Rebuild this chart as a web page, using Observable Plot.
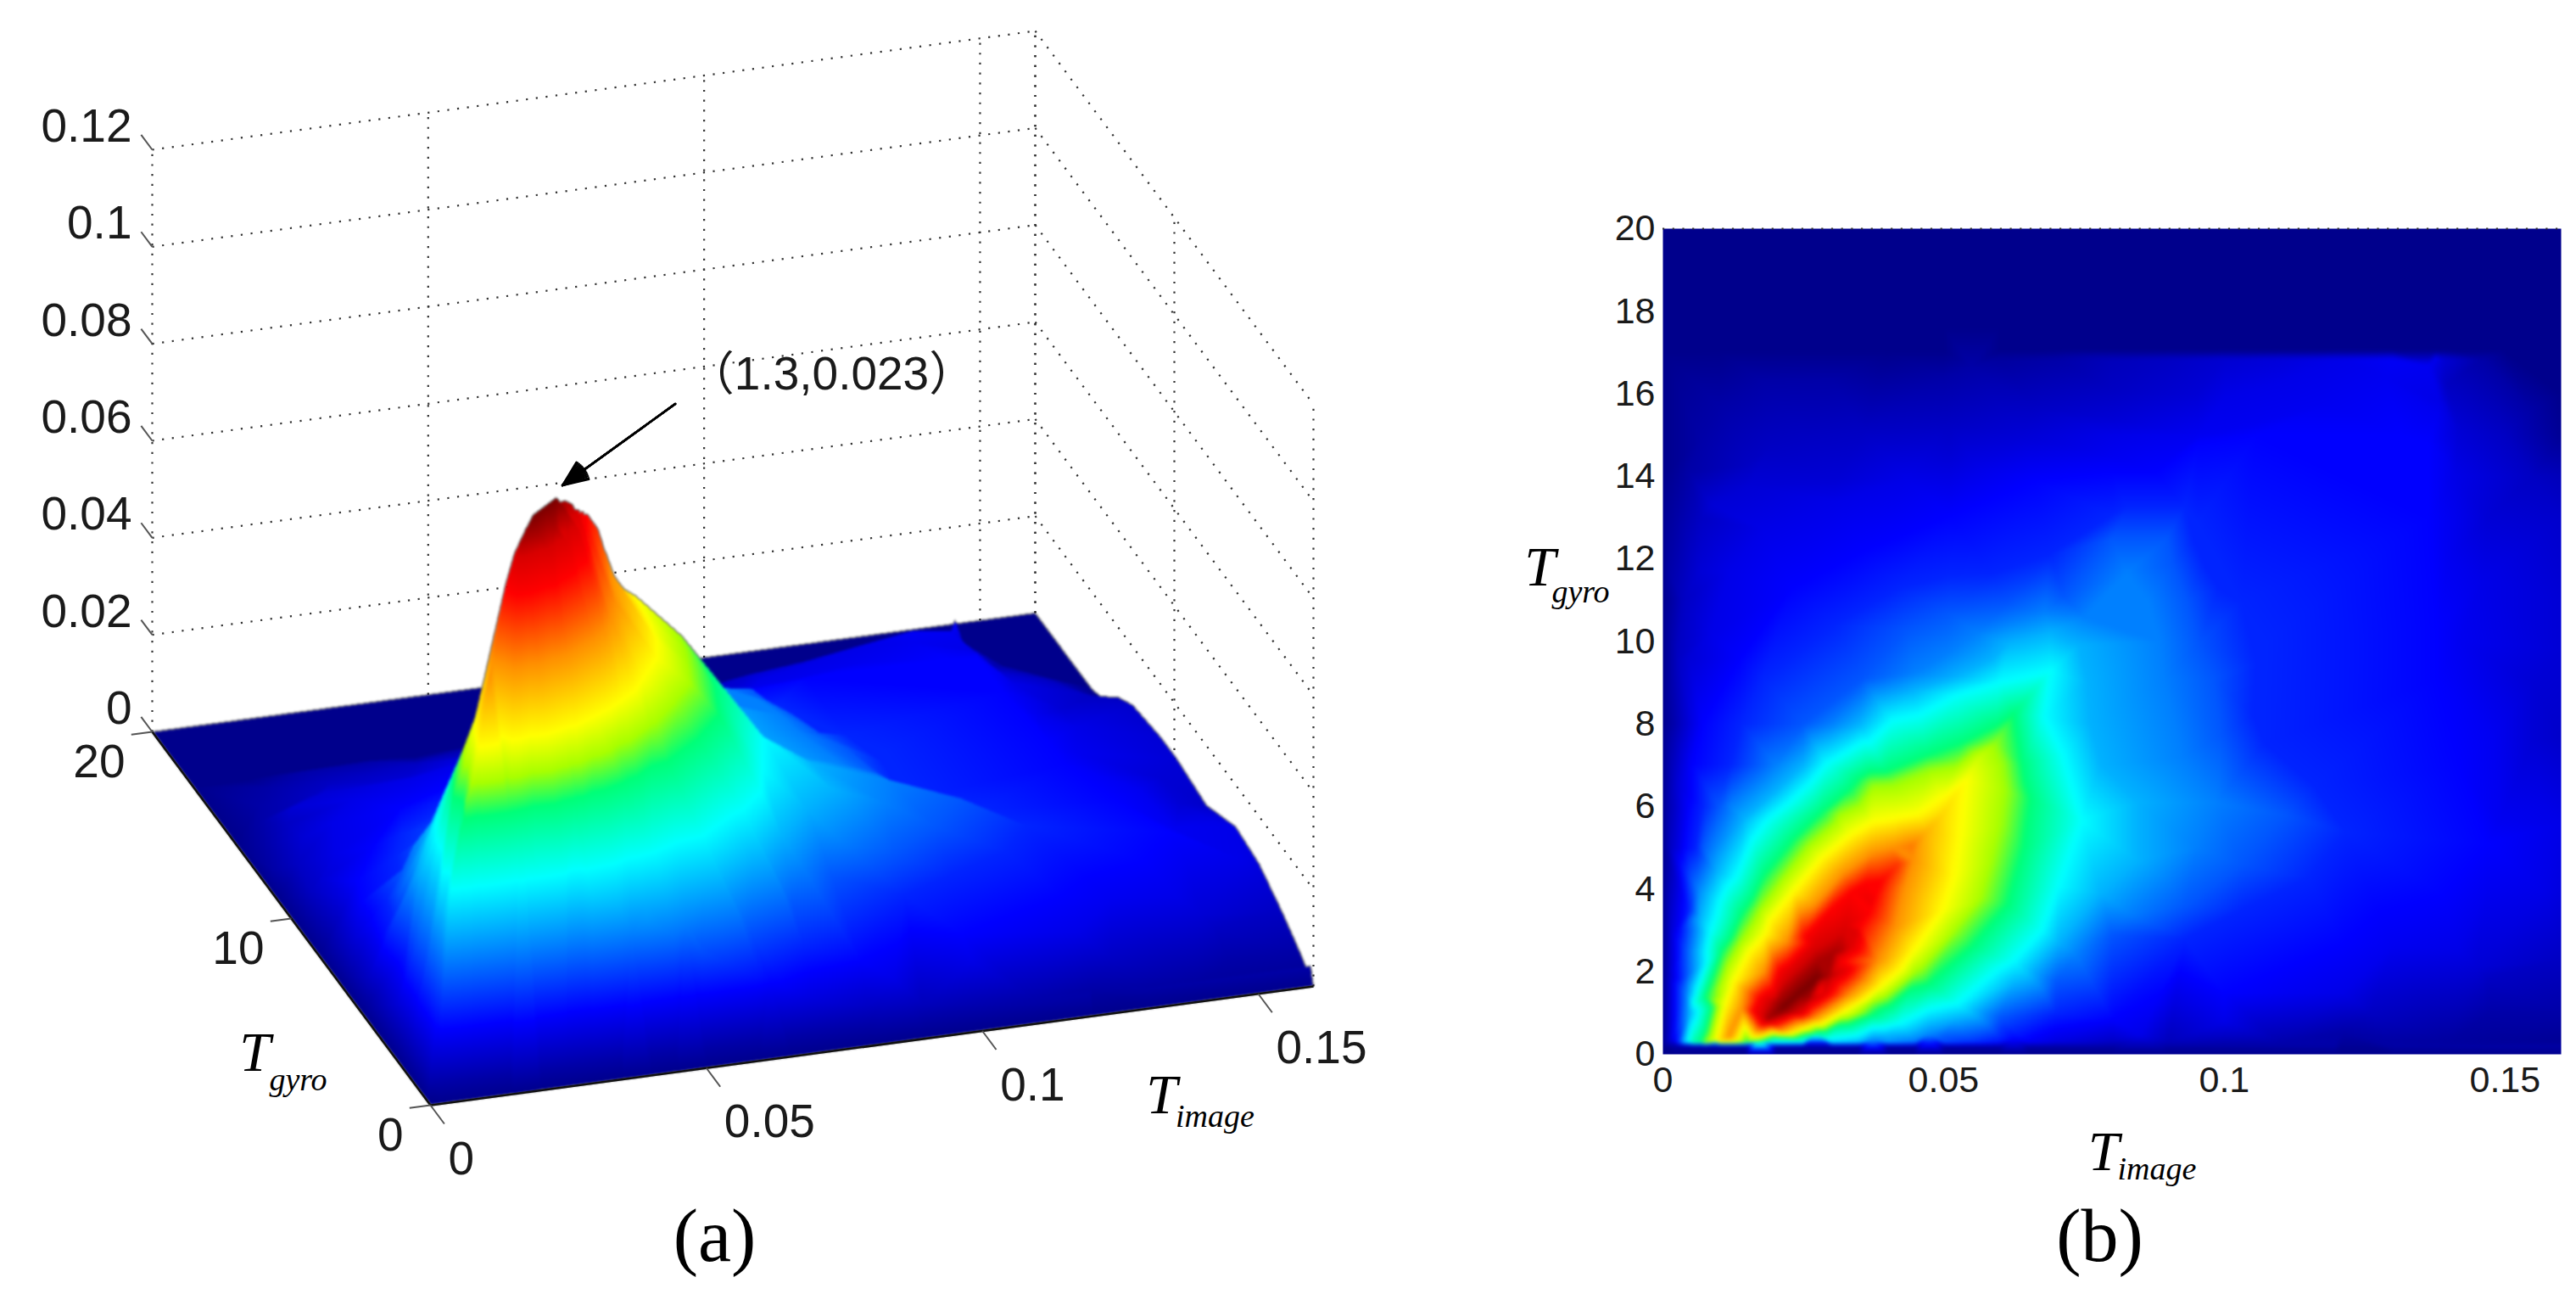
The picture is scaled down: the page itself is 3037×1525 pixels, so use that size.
<!DOCTYPE html>
<html><head><meta charset="utf-8">
<script src="https://cdn.jsdelivr.net/npm/d3@7"></script>
<script src="https://cdn.jsdelivr.net/npm/@observablehq/plot@0.6"></script>
<style>
html,body{margin:0;padding:0;background:#fff}
#page{position:relative;width:3037px;height:1525px;overflow:hidden;background:#fff}
#page svg{position:absolute;top:0;background:transparent}
</style></head><body><div id="page"></div>
<script>
// ---- tick labels ----
const xTicks=[0,0.05,0.1,0.15];
const yTicksB=[0,2,4,6,8,10,12,14,16,18,20];
const yTicksA=[0,10,20];
const zTicks=[0,0.02,0.04,0.06,0.08,0.1,0.12];
const xWallGrid=[0,0.05,0.1,0.15,0.16];
const yWallGrid=[20,10,0];
const annotationText="（1.3,0.023）";
// ---- colour map ----
const jetStops=[0,0.125,0.375,0.5,0.56,0.625,0.75,0.875,0.94,1];
const jetColors=["#00008c","#0000ff","#00ffff","#00ff78","#a8ff00","#ffff00","#ff9000","#ff0000","#d80000","#7a0000"];
// ---- density: isolines as [Timage,Tgyro], value relative to peak ----
const crest=[[.0215,1.15,1],[.0245,1.5,1],[.0275,1.85,1],[.032,2.5,.96],[.0345,3,.93],[.037,3.7,.9],[.039,4.2,.875],[.042,4.6,.83],[.0445,5.05,.77],[.047,5.4,.71],[.0498,5.82,.67],[.0539,6.64,.625],[.0564,7.2,.585]];
const level97=[[.0186,.85],[.0205,1.3],[.024,1.8],[.0275,2.25],[.0305,2.45],[.0295,1.9],[.026,1.35],[.022,1.0]];
const level93=[[.0175,.95],[.0185,1.3],[.0225,2.0],[.027,2.65],[.0325,3.1],[.0335,2.6],[.032,2.0],[.0285,1.45],[.0245,1.0],[.019,.78]];
const level875=[[.016,1.05],[.0171,1.37],[.0206,2.05],[.0252,2.88],[.0297,3.5],[.0335,3.95],[.036,4.15],[.0175,.72],[.0232,.92],[.0282,1.51],[.0322,2.26],[.0352,3.08],[.037,3.45],[.038,3.85]];
const level75=[[.0118,.42],[.0141,1.10],[.0181,1.99],[.0222,2.74],[.0272,3.63],[.0322,4.38],[.0373,4.86],[.041,5.0],[.0211,.58],[.0272,.89],[.0332,1.44],[.0383,2.26],[.0413,3.08],[.043,4.04],[.0445,4.7]];
const level625=[[.0095,.33],[.0111,1.2],[.0125,1.75],[.0181,2.9],[.0232,3.95],[.0282,4.75],[.0332,5.3],[.0373,5.62],[.0413,5.72],[.0453,5.82],[.0498,6.23],[.0171,.41],[.0252,.62],[.0322,1.03],[.0388,1.64],[.0448,2.53],[.0498,3.49],[.0519,4.32],[.0529,5.27]];
const level55=[[.0078,.31],[.0096,1.4],[.0136,2.75],[.0171,3.55],[.0211,4.3],[.0257,5.1],[.0312,5.85],[.0373,6.54],[.0408,6.58],[.0473,6.92],[.0524,7.05],[.0594,7.57],[.0609,7.05],[.0617,6.37],[.0609,5.55],[.0594,4.73],[.0574,3.77],[.0524,2.95],[.0448,1.92],[.0373,1.23],[.0272,.62],[.0171,.34]];
const level50=[[.0068,.3],[.0076,1.4],[.0105,2.5],[.0141,3.4],[.0181,4.35],[.0232,5.2],[.0282,5.85],[.0332,6.4],[.0398,6.85],[.0473,7.25],[.0534,7.55],[.0594,7.95],[.0624,8.22],[.0639,7.05],[.0642,5.0],[.0614,3.63],[.0549,2.60],[.0473,1.71],[.0373,.96],[.0272,.51],[.0171,.32]];
const level375=[[.0044,.3],[.0052,1.23],[.0084,2.95],[.0131,4.32],[.0186,5.68],[.0292,7.05],[.0408,8.08],[.0524,8.7],[.0599,9.0],[.0691,9.28],[.0680,8.18],[.0713,7.23],[.0746,5.66],[.0705,4.09],[.0675,3.0],[.0624,2.26],[.0524,1.23],[.0423,.75],[.03,.38],[.02,.31]];
const level30=[[.0048,1],[.0066,3.3],[.0096,4.4],[.0145,5.7],[.0195,6.3],[.025,7],[.035,8],[.0445,8.8],[.0525,9.15],[.059,9.6],[.0615,9.95],[.0689,10.2],[.074,9.9],[.0755,9],[.076,8],[.078,7],[.0845,6.1],[.0845,4.7],[.078,3.9],[.0705,2.7],[.0624,1.7],[.052,.85],[.04,.45]];
const level25=[[.0034,.35],[.0042,1.5],[.0054,3.3],[.0062,4],[.009,5],[.012,6],[.02,7],[.03,8],[.045,9.25],[.0507,9.7],[.056,10.2],[.0615,10.45],[.068,10.7],[.075,10.6],[.0826,11.66],[.0865,11],[.0885,10],[.0893,9.1],[.0925,7.2],[.0985,6.1],[.095,5],[.09,4.2],[.083,3.4],[.0735,2.4],[.0675,1.58],[.0574,.75],[.0473,.45],[.0373,.31]];
const level21=[[.0042,2.5],[.007,5],[.010,6],[.0165,7],[.025,8],[.0357,9.1],[.0434,10.25],[.051,10.7],[.0612,10.9],[.0714,11.1],[.08,12.5],[.0898,12.5],[.0908,11.87],[.0934,10.97],[.0954,9.9],[.098,9.1],[.0995,7.74],[.1108,5.8],[.1031,4.6],[.0929,3.57],[.08,2.9],[.07,1.75],[.06,.9],[.05,.42]];
const level165=[[.0028,.35],[.0032,1.8],[.0047,3.5],[.006,5],[.0072,6],[.012,7],[.014,8],[.0179,9.1],[.0306,10.4],[.0423,11.3],[.051,11.6],[.0587,11.65],[.0689,12.1],[.08,13.05],[.0826,13.26],[.0929,13.26],[.0954,12.9],[.0944,12.5],[.0964,11.87],[.099,11.3],[.1031,10.97],[.1078,10],[.1057,9.5],[.1052,8.2],[.1072,7.53],[.116,6.5],[.1216,5.38],[.115,4.27],[.1031,3.5],[.0929,2.8],[.07,1],[.06,.4]];
const level125=[[.0022,.35],[.0028,3],[.0037,5],[.0046,6],[.0052,7],[.007,8],[.0138,9.6],[.023,11.3],[.0357,12.2],[.051,13.05],[.0663,13.9],[.08,14.1],[.0877,14.1],[.0954,14.8],[.1057,15],[.1314,15],[.1365,14.8],[.1365,13],[.138,10.3],[.138,9.1],[.142,7],[.1468,5.1],[.139,3.85],[.121,2.67],[.1,1.48],[.08,.85],[.0624,.35]];
const level11=[[.08,14.5],[.0954,15],[.1057,15.3],[.1185,15.75],[.1288,16.4],[.1365,16.7],[.138,15.5],[.1395,14.4],[.14,12],[.142,10],[.148,7.74],[.149,5.65],[.147,4],[.13,2.6]];
const level10=[[.0016,.35],[.0018,2],[.003,5],[.0055,8],[.0085,10.2],[.0117,11.7],[.0179,12.7],[.0306,13.4],[.0434,13.95],[.056,14.2],[.08,15],[.1,15.9],[.11,16.3],[.1385,15.8],[.141,14],[.1425,13],[.146,11.5],[.157,6],[.157,3.92],[.1417,2.53],[.121,1.48],[.1,.79],[.085,.45]];
const level08=[[.0015,3],[.0025,6.5],[.0045,9.6],[.0066,11.7],[.0087,13.3],[.0153,13.75],[.0306,13.9],[.051,14.5],[.0638,15],[.08,15.4],[.095,16],[.1417,15.1],[.147,13],[.155,9],[.155,7.6],[.145,2.1]];
const level06=[[.001,2],[.0013,5],[.0026,9.6],[.0036,11],[.0066,13],[.0153,14.3],[.0189,14.7],[.0255,14.9],[.0357,15.1],[.051,15.3],[.066,15.7],[.08,16.1],[.1395,16.2],[.15,15],[.155,14],[.147,1.84],[.126,1],[.1,.42]];
const level03=[[.0005,2],[.0006,6],[.001,11.7],[.0026,13],[.0046,14.1],[.0066,14.9],[.0102,15.7],[.0179,16.3],[.03,16.35],[.05,16.4],[.055,16.66],[.1545,15.6],[.147,.96],[.121,.52]];
const level00=[[0,0],[0,.2],[0,.28],[0,2],[0,5],[0,8],[0,11],[0,14],[0,17],[0,20],[.04,20],[.08,20],[.12,20],[.16,20]];
// the front slope along Tgyro = 0.28, the fold at Tgyro = 16.85, the far edge at Timage = 0.16
const frontX=[.002,.003,.004,.005,.006,.007,.008,.01,.012,.015,.02,.025,.03,.035,.04,.045,.05,.055,.06,.065,.07,.08,.09,.1,.11,.12,.13,.14,.15,.16];
const frontV=[.08,.2,.33,.42,.48,.53,.56,.6,.6,.5,.4,.36,.33,.3,.27,.235,.2,.17,.14,.115,.09,.06,.05,.04,.035,.03,.025,.02,.015,.01];
const foldX=[.06,.07,.08,.09,.1,.11,.12,.13,.1375,.139,.146];
const foldV=[.02,.03,.05,.06,.075,.085,.10,.115,.125,.08,.03];
const topX=[.01,.02,.03,.04,.05,.06,.07,.08,.09,.1,.11,.12,.13,.1375,.139,.146,.15,.16];
const edgeY=[1,2.3,3.9,5.6,7.7,9.8,11,13,14,15,16];
const edgeV=[.03,.06,.09,.1,.068,.08,.08,.07,.05,.01,0];

const points=[];
const addLevel=(pts,v)=>pts.forEach(([x,y])=>points.push({x,y,v}));
crest.forEach(([x,y,v])=>points.push({x,y,v}));
[[level97,.97],[level93,.93],[level875,.875],[level75,.75],[level625,.625],[level55,.55],[level50,.5],[level375,.375],[level30,.3],[level25,.25],[level21,.21],[level165,.16],[level125,.125],[level11,.11],[level10,.1],[level08,.08],[level06,.06],[level03,.03],[level00,0]].forEach(([l,v])=>addLevel(l,v));
frontX.forEach((x,i)=>{points.push({x,y:0,v:0});points.push({x,y:.2,v:.03});points.push({x,y:.28,v:frontV[i]});});
foldX.forEach((x,i)=>points.push({x,y:16.85,v:foldV[i]}));
topX.forEach(x=>{points.push({x,y:17.05,v:0});points.push({x,y:17.6,v:0});});
edgeY.forEach((y,i)=>points.push({x:.16,y,v:edgeV[i]}));

const colorScale={type:"linear",domain:jetStops,range:jetColors,interpolate:"rgb",clamp:true};

// ---- panel (a): orthographic view ----
const xMax=.16,yMax=20,zMax=.12,peakZ=.114;
const P=(x,y,z)=>[507+1041*(x/xMax)-328*(y/yMax),1302-140*(x/xMax)-440*(y/yMax)-686*(z/zMax)];
const sx=(x,y,z)=>P(x,y,z)[0], sy=(x,y,z)=>P(x,y,z)[1];
const depthOf=p=>.225*(p.x/xMax)+.714*(p.y/yMax)-.504*(p.v*peakZ/zMax);
const tri=d3.Delaunay.from(points,p=>p.x/xMax*1060,p=>p.y*48.6).triangles;
function surface(index,w,h,X,Y,V){
  const out=new Float64Array(w*h).fill(NaN),buf=new Float64Array(w*h).fill(Infinity);
  const D=points.map(depthOf);
  for(let t=0;t<tri.length;t+=3){
    const a=tri[t],b=tri[t+1],c=tri[t+2];
    const ax=X[a],ay=Y[a],bx=X[b],by=Y[b],cx=X[c],cy=Y[c];
    const den=(by-cy)*(ax-cx)+(cx-bx)*(ay-cy);
    if(Math.abs(den)<1e-9)continue;
    const x0=Math.max(0,Math.floor(Math.min(ax,bx,cx))),x1=Math.min(w-1,Math.ceil(Math.max(ax,bx,cx)));
    const y0=Math.max(0,Math.floor(Math.min(ay,by,cy))),y1=Math.min(h-1,Math.ceil(Math.max(ay,by,cy)));
    for(let py=y0;py<=y1;py++)for(let px=x0;px<=x1;px++){
      const qx=px+.5,qy=py+.5;
      const l1=((by-cy)*(qx-cx)+(cx-bx)*(qy-cy))/den,l2=((cy-ay)*(qx-cx)+(ax-cx)*(qy-cy))/den,l3=1-l1-l2;
      if(l1<-.001||l2<-.001||l3<-.001)continue;
      const d=l1*D[a]+l2*D[b]+l3*D[c],i=py*w+px;
      if(d<buf[i]){buf[i]=d;out[i]=l1*V[a]+l2*V[b]+l3*V[c];}
    }
  }
  return out;
}
const sans="'Liberation Sans',Arial",serif="'Liberation Serif','Times New Roman',serif";
const ink="#1a1a1a",grid={stroke:"#333",strokeWidth:2.2,strokeDasharray:"2.2 9.5"};
const peakPoint=crest[2];
const tipX=sx(peakPoint[0],peakPoint[1],peakZ)+7,tipY=sy(peakPoint[0],peakPoint[1],peakZ)-14;
const head=a=>Plot.arrow([0],{x1:tipX+133,y1:tipY-96,x2:tipX,y2:tipY,stroke:"#000",strokeWidth:2.4,headAngle:a,headLength:20,bend:0});
const axisRules=[{a:[0,0],b:[xMax,0]},{a:[0,0],b:[0,yMax]}];

const plotA=Plot.plot({
  width:1760,height:1525,margin:0,
  style:{fontFamily:sans,background:"transparent"},
  x:{domain:[0,1760],range:[0,1760],axis:null},
  y:{domain:[0,1525],range:[0,1525],axis:null},
  color:colorScale,
  marks:[
    Plot.link(zTicks.slice(1),{x1:z=>sx(0,yMax,z),y1:z=>sy(0,yMax,z),x2:z=>sx(xMax,yMax,z),y2:z=>sy(xMax,yMax,z),...grid}),
    Plot.link(zTicks.slice(1),{x1:z=>sx(xMax,yMax,z),y1:z=>sy(xMax,yMax,z),x2:z=>sx(xMax,0,z),y2:z=>sy(xMax,0,z),...grid}),
    Plot.link(xWallGrid,{x1:x=>sx(x,yMax,0),y1:x=>sy(x,yMax,0),x2:x=>sx(x,yMax,zMax),y2:x=>sy(x,yMax,zMax),...grid}),
    Plot.link(yWallGrid,{x1:y=>sx(xMax,y,0),y1:y=>sy(xMax,y,0),x2:y=>sx(xMax,y,zMax),y2:y=>sy(xMax,y,zMax),...grid}),
    Plot.raster(points,{x:d=>sx(d.x,d.y,d.v*peakZ),y:d=>sy(d.x,d.y,d.v*peakZ),fill:d=>d.v,interpolate:surface,pixelSize:1,blur:1,x1:160,x2:1570,y1:560,y2:1330}),
    Plot.link(axisRules,{x1:d=>sx(d.a[0],d.a[1],0),y1:d=>sy(d.a[0],d.a[1],0),x2:d=>sx(d.b[0],d.b[1],0),y2:d=>sy(d.b[0],d.b[1],0),stroke:"#111",strokeWidth:2.5}),
    // ticks
    Plot.link(xTicks,{x1:x=>sx(x,0,0),y1:x=>sy(x,0,0),x2:x=>sx(x,-1,0),y2:x=>sy(x,-1,0),stroke:"#555",strokeWidth:2}),
    Plot.link(yTicksA,{x1:y=>sx(0,y,0),y1:y=>sy(0,y,0),x2:y=>sx(-.0038,y,0),y2:y=>sy(-.0038,y,0),stroke:"#555",strokeWidth:2}),
    Plot.link(zTicks,{x1:z=>sx(0,yMax,z),y1:z=>sy(0,yMax,z),x2:z=>sx(0,yMax+.8,z),y2:z=>sy(0,yMax+.8,z),stroke:"#555",strokeWidth:2}),
    // tick labels
    Plot.text(xTicks,{x:x=>sx(x,0,0),y:x=>sy(x,0,0),text:d=>String(d),textAnchor:"start",dx:21,dy:64,fontSize:55,fill:ink}),
    Plot.text(yTicksA,{x:y=>sx(0,y,0),y:y=>sy(0,y,0),text:d=>String(d),textAnchor:"end",dx:-32,dy:36,fontSize:55,fill:ink}),
    Plot.text(zTicks,{x:z=>sx(0,yMax,z),y:z=>sy(0,yMax,z),text:d=>String(d),textAnchor:"end",dx:-24,dy:-27,fontSize:55,fill:ink}),
    // axis names
    Plot.text(["T"],{x:()=>300,y:()=>1240,text:d=>d,fontFamily:serif,fontStyle:"italic",fontSize:66,fill:"#000"}),
    Plot.text(["gyro"],{x:()=>351,y:()=>1272,text:d=>d,fontFamily:serif,fontStyle:"italic",fontSize:38,fill:"#000"}),
    Plot.text(["T"],{x:()=>1369,y:()=>1290,text:d=>d,fontFamily:serif,fontStyle:"italic",fontSize:66,fill:"#000"}),
    Plot.text(["image"],{x:()=>1432,y:()=>1315,text:d=>d,fontFamily:serif,fontStyle:"italic",fontSize:38,fill:"#000"}),
    Plot.text(["(a)"],{x:()=>842,y:()=>1457,text:d=>d,fontFamily:serif,fontSize:88,fill:"#000"}),
    // annotation
    Plot.text([annotationText],{x:()=>980,y:()=>441,text:d=>d,fontFamily:"'Liberation Sans','Noto Sans CJK SC'",fontSize:55,fill:ink}),
    head(8),head(16),head(24),head(32),head(40),head(46)
  ]
});
plotA.style.left="0px";

// ---- panel (b) ----
const plotB=Plot.plot({
  width:1277,height:1525,marginLeft:200,marginRight:18,marginTop:269,marginBottom:283,
  style:{fontFamily:sans,background:"transparent"},
  x:{domain:[0,.16],axis:null},
  y:{domain:[0,20],axis:null},
  color:colorScale,
  marks:[
    Plot.raster(points,{x:"x",y:"y",fill:"v",interpolate:"barycentric",pixelSize:1,x1:0,x2:.16,y1:0,y2:20,blur:2}),
    Plot.ruleY([20],{...grid}),
    Plot.axisX(xTicks,{anchor:"bottom",tickFormat:d=>String(d),tickSize:0,tickPadding:14,fontSize:43,fill:ink,label:null}),
    Plot.axisY(yTicksB,{anchor:"left",tickFormat:d=>String(d),tickSize:0,tickPadding:9,fontSize:43,fill:ink,label:null}),
    Plot.text(["T"],{x:()=>.0785,y:()=>0,dy:115,text:d=>d,fontFamily:serif,fontStyle:"italic",fontSize:66,fill:"#000"}),
    Plot.text(["image"],{x:()=>.0880,y:()=>0,dy:135,text:d=>d,fontFamily:serif,fontStyle:"italic",fontSize:38,fill:"#000"}),
    Plot.text(["T"],{x:()=>0,y:()=>11.8,dx:-145,text:d=>d,fontFamily:serif,fontStyle:"italic",fontSize:66,fill:"#000"}),
    Plot.text(["gyro"],{x:()=>0,y:()=>11.2,dx:-97,text:d=>d,fontFamily:serif,fontStyle:"italic",fontSize:38,fill:"#000"}),
    Plot.text(["(b)"],{x:()=>.0778,y:()=>0,dy:215,text:d=>d,fontFamily:serif,fontSize:88,fill:"#000"})
  ]
});
plotB.style.left="1760px";
document.getElementById("page").append(plotA,plotB);
</script></body></html>
